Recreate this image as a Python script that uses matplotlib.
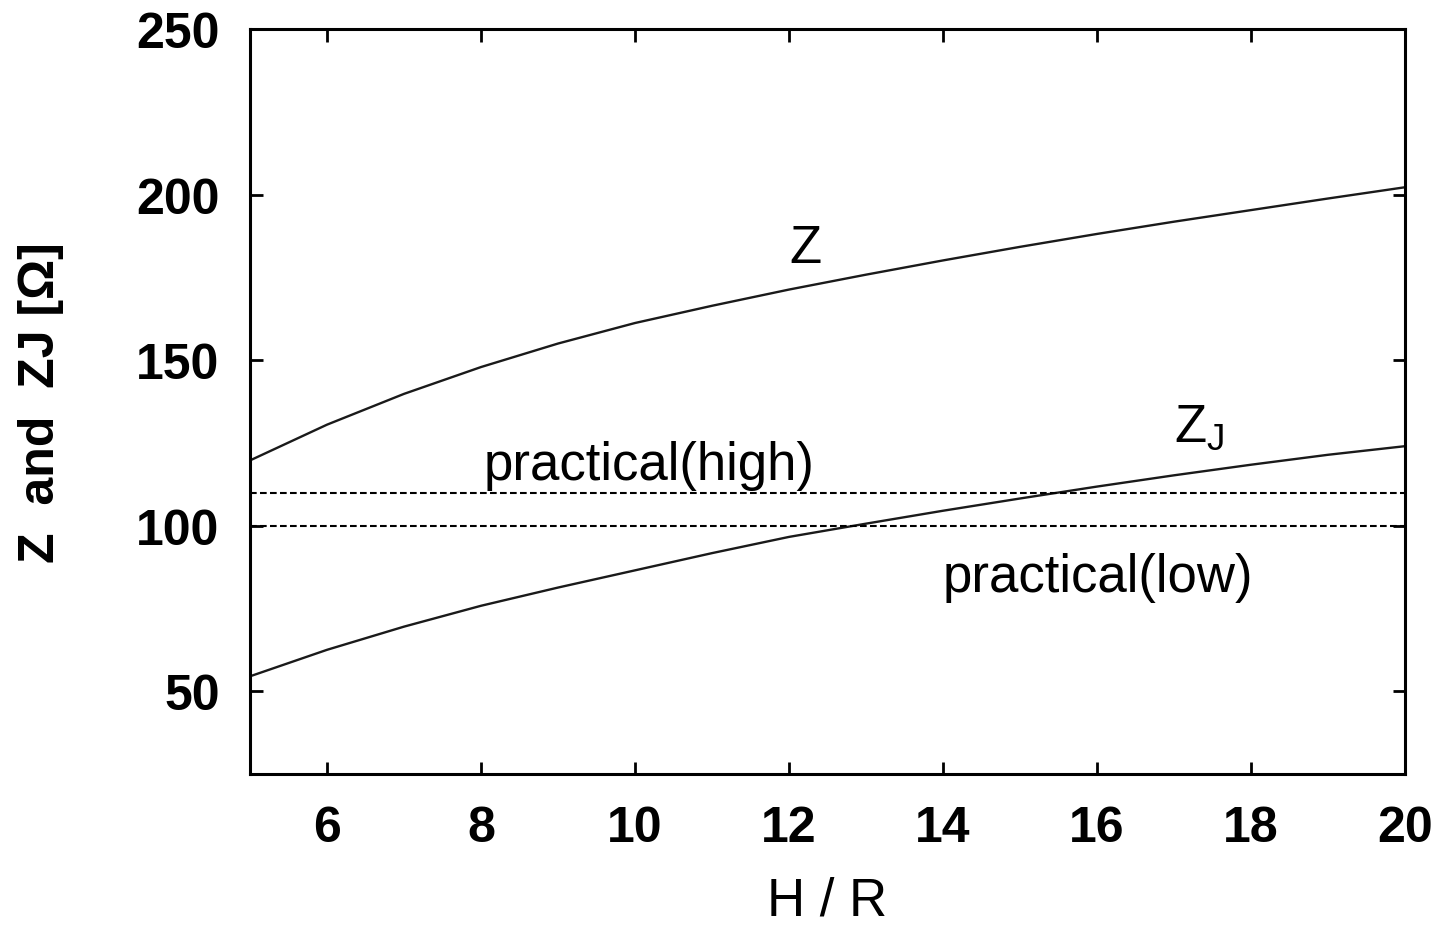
import matplotlib
matplotlib.use("Agg")
import matplotlib.pyplot as plt

plt.rcParams['font.family'] = ['Liberation Sans', 'DejaVu Sans']
plt.rcParams['mathtext.fontset'] = 'custom'
plt.rcParams['mathtext.rm'] = 'Liberation Sans'
plt.rcParams['mathtext.it'] = 'Liberation Sans'

# H/R values and impedances
hr = [5, 6, 7, 8, 9, 10, 11, 12, 13, 14, 15, 16, 17, 18, 19, 20]
z = [119.7, 130.5, 139.8, 147.9, 155, 161.2, 166.4, 171.3, 175.8, 180.1, 184.2, 188.1, 191.8, 195.3, 198.8, 202.2]
zj = [54.5, 62.5, 69.5, 75.8, 81.3, 86.5, 91.7, 96.6, 100.6, 104.5, 108.2, 111.8, 115.2, 118.4, 121.4, 124]
practical_high = 110
practical_low = 100

fig = plt.figure(figsize=(14.47, 9.28), dpi=100)
ax = fig.add_axes([0.1728, 0.1649, 0.971 - 0.1728, 0.9677 - 0.1649])

ax.plot(hr, z, color='#1a1a1a', lw=1.7)
ax.plot(hr, zj, color='#1a1a1a', lw=1.7)
ax.axhline(practical_high, color='black', lw=1.5, dashes=(3.2, 1.6))
ax.axhline(practical_low, color='black', lw=1.5, dashes=(3.2, 1.6))

ax.text(12.0, 179.7, 'Z', fontsize=38, ha='left', va='baseline')
ax.text(8.04, 114.2, 'practical(high)', fontsize=38, ha='left', va='baseline')
ax.text(17.0, 125.8, r'Z$_\mathrm{J}$', fontsize=38, ha='left', va='baseline')
ax.text(14.0, 80.3, 'practical(low)', fontsize=38, ha='left', va='baseline')

ax.set_xlim(5, 20)
ax.set_ylim(25, 250)
ax.set_xticks([6, 8, 10, 12, 14, 16, 18, 20])
ax.set_yticks([50, 100, 150, 200, 250])

ax.tick_params(direction='in', length=9, width=2, top=True, right=True,
               labelsize=36, pad=22)
for lab in ax.get_xticklabels() + ax.get_yticklabels():
    lab.set_fontweight('bold')
for sp in ax.spines.values():
    sp.set_linewidth(2.2)

ax.set_xlabel('H / R', fontsize=38, labelpad=18)
ax.set_ylabel('Z  and  ZJ [\u03a9]', fontsize=36, fontweight='bold', labelpad=52)

fig.savefig('out.png', dpi=100)
